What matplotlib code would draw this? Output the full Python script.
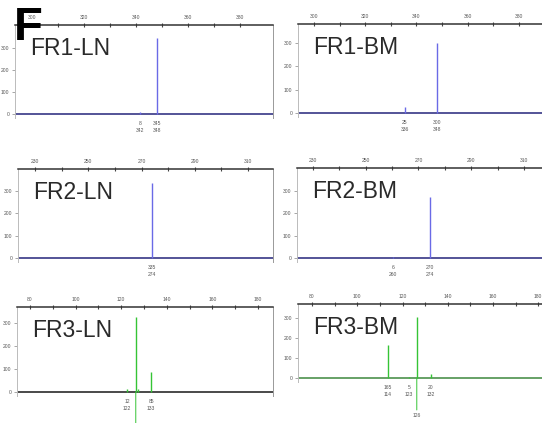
import matplotlib
matplotlib.use("Agg")
import matplotlib.pyplot as plt

plt.rcParams['font.family'] = ['Liberation Sans', 'DejaVu Sans']

W, H = 542, 423

# fragment sizes (bp) and peak heights (RFU) for each run
fr1_ln_size = [341.5, 348.0]
fr1_ln_height = [8, 345]
fr1_bm_size = [335.5, 348.0]
fr1_bm_height = [25, 300]
fr2_ln_size = [274.0]
fr2_ln_height = [335]
fr2_bm_size = [260.5, 274.5]
fr2_bm_height = [6, 270]
fr3_ln_size = [122.5, 126.4, 127.3, 133.1]
fr3_ln_height = [12, 325, 15, 85]
fr3_bm_size = [113.6, 122.8, 126.3, 132.5]
fr3_bm_height = [165, 5, 305, 20]

# peak labelling: 1 = label under baseline, 2 = label dropped lower on a leader,
# 3 = leader only (label falls below the page), 0 = none
fr1_ln_lab = [1, 1]
fr1_bm_lab = [1, 1]
fr2_ln_lab = [1]
fr2_bm_lab = [1, 1]
fr3_ln_lab = [1, 3, 0, 1]
fr3_bm_lab = [1, 1, 2, 1]

fr12_ticks = [300, 320, 340, 360, 380]
fr2_ticks = [230, 250, 270, 290, 310]
fr3_ticks = [80, 100, 120, 140, 160, 180]
y_ticks = [0, 100, 200, 300]

BLUE = '#6a6ae6'
BLUE_BASE = '#45458f'
GREEN = '#35c435'

panels = [
    # name, sizes, heights, labels, xticks, box px (x0, top, x1, baseline), px per 100 RFU, xlim, colours
    ('FR1-LN', fr1_ln_size, fr1_ln_height, fr1_ln_lab, fr12_ticks,
     (15, 25, 273, 114), 22.0, (293.5, 392.7), BLUE, BLUE_BASE, True),
    ('FR1-BM', fr1_bm_size, fr1_bm_height, fr1_bm_lab, fr12_ticks,
     (298, 24, 560, 113), 23.5, (293.8, 396.0), BLUE, BLUE_BASE, False),
    ('FR2-LN', fr2_ln_size, fr2_ln_height, fr2_ln_lab, fr2_ticks,
     (18, 169, 273, 258), 22.5, (223.6, 319.4), BLUE, BLUE_BASE, True),
    ('FR2-BM', fr2_bm_size, fr2_bm_height, fr2_bm_lab, fr2_ticks,
     (297, 168, 560, 258), 22.5, (224.0, 323.6), BLUE, BLUE_BASE, False),
    ('FR3-LN', fr3_ln_size, fr3_ln_height, fr3_ln_lab, fr3_ticks,
     (17, 307, 273, 392), 23.0, (74.3, 186.6), GREEN, '#3a3a3a', True),
    ('FR3-BM', fr3_bm_size, fr3_bm_height, fr3_bm_lab, fr3_ticks,
     (298, 304, 560, 378), 20.0, (73.8, 189.6), GREEN, '#5a9a5a', False),
]

fig = plt.figure(figsize=(W / 100, H / 100), dpi=100)

for name, sizes, heights, labs, xt, box, s, xlim, col, base_col, boxed in panels:
    x0, top, x1, base = box
    bottom = base + 4
    ax = fig.add_axes([x0 / W, 1 - bottom / H, (x1 - x0) / W, (bottom - top) / H])
    ax.set_xlim(*xlim)
    ax.set_ylim(-4 * 100 / s, (base - top) * 100 / s)

    ax.axhline(0, color=base_col, lw=1.3, zorder=2)
    ax.vlines(sizes, 0, heights, color=col, lw=1.0, zorder=3)

    for x, h, lab in zip(sizes, heights, labs):
        if lab == 1:
            ax.annotate('%d\n%d' % (h, round(x)), xy=(x, 0), xytext=(0, -5),
                        textcoords='offset points', ha='center', va='top',
                        fontsize=3.6, color='#555555', linespacing=1.6,
                        annotation_clip=False)
        elif lab == 2:
            ax.annotate('%d' % round(x), xy=(x, 0), xytext=(0, -25),
                        textcoords='offset points', ha='center', va='top',
                        fontsize=3.6, color='#555555', annotation_clip=False,
                        arrowprops=dict(arrowstyle='-', color=col, lw=0.7,
                                        shrinkA=0, shrinkB=0))
        elif lab == 3:
            ax.annotate('', xy=(x, 0), xytext=(0, -25),
                        textcoords='offset points', annotation_clip=False,
                        arrowprops=dict(arrowstyle='-', color=col, lw=0.7,
                                        shrinkA=0, shrinkB=0))

    # scale along the top, intensity on the left
    ax.xaxis.tick_top()
    ax.set_xticks(xt)
    ax.set_xticks([v + 10 for v in xt[:-1]], minor=True)
    ax.set_yticks(y_ticks)
    ax.tick_params(axis='x', which='both', labelsize=3.6, labelcolor='#555555',
                   color='#444444', length=3, width=0.8, pad=2, direction='inout')
    ax.tick_params(axis='y', labelsize=3.6, labelcolor='#555555',
                   color='#999999', length=2, width=0.6, pad=2)

    ax.spines['bottom'].set_visible(False)
    ax.spines['top'].set_color('#333333')
    ax.spines['top'].set_linewidth(1.1)
    ax.spines['left'].set_color('#bbbbbb')
    ax.spines['left'].set_linewidth(0.7)
    ax.spines['right'].set_visible(boxed)
    ax.spines['right'].set_color('#999999')
    ax.spines['right'].set_linewidth(0.7)
    ax.patch.set_alpha(0)

    fig.text((x0 + 15) / W, 1 - (top + 12) / H, name, fontsize=16.5,
             color='#2a2a2a', ha='left', va='top')

fig.text(14 / W, 1 - 6 / H, 'F', fontsize=34, fontweight='bold',
         color='black', ha='left', va='top')

fig.savefig('out.png', dpi=100)
